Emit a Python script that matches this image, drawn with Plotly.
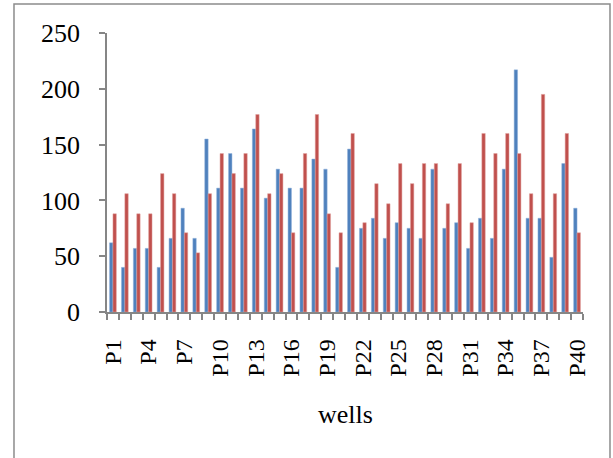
import plotly.graph_objects as go

wells = [f"P{i}" for i in range(1, 41)]

series_a = [62, 40, 57, 57, 40, 66, 93, 66, 155, 111,
            142, 111, 164, 102, 128, 111, 111, 137, 128, 40,
            146, 75, 84, 66, 80, 75, 66, 128, 75, 80,
            57, 84, 66, 128, 217, 84, 84, 49, 133, 93]

series_b = [88, 106, 88, 88, 124, 106, 71, 53, 106, 142,
            124, 142, 177, 106, 124, 71, 142, 177, 88, 71,
            160, 80, 115, 97, 133, 115, 133, 133, 97, 133,
            80, 160, 142, 160, 142, 106, 195, 106, 160, 71]

tick_labels = [w if i % 3 == 0 else "" for i, w in enumerate(wells)]

FONT = "Liberation Serif, Times New Roman, serif"
AXIS_GREY = "#868686"

fig = go.Figure()
fig.add_trace(go.Bar(x=wells, y=series_a, marker=dict(color="#4F81BD", line=dict(color="#8FB0DA", width=0.5))))
fig.add_trace(go.Bar(x=wells, y=series_b, marker=dict(color="#C0504D", line=dict(color="#E0A09E", width=0.5))))

fig.update_layout(
    width=613, height=458,
    margin=dict(l=107, r=30, t=33, b=146),
    paper_bgcolor="white", plot_bgcolor="white",
    showlegend=False,
    barmode="group", bargap=0.43, bargroupgap=0,
    font=dict(family=FONT, size=24, color="black"),
)

fig.update_xaxes(
    type="category",
    tickmode="array", tickvals=wells, ticktext=tick_labels,
    tickson="boundaries", ticks="outside", ticklen=6, tickwidth=1.5, tickcolor=AXIS_GREY,
    tickangle=-90, ticklabelstandoff=16,
    showline=True, linecolor=AXIS_GREY, linewidth=1.5,
    showgrid=False, zeroline=False,
    tickfont=dict(family=FONT, size=24, color="black"),
)

fig.update_yaxes(
    range=[0, 250], dtick=50,
    ticks="outside", ticklen=6, tickwidth=1.5, tickcolor=AXIS_GREY,
    ticklabelstandoff=14,
    showline=True, linecolor=AXIS_GREY, linewidth=1.5,
    showgrid=False, zeroline=False,
    tickfont=dict(family=FONT, size=26, color="black"),
)

fig.add_annotation(
    text="wells", xref="paper", yref="paper",
    x=0.5, y=-0.366, xanchor="center", yanchor="middle",
    showarrow=False, font=dict(family=FONT, size=26, color="black"),
)

# outer chart frame
fig.add_shape(
    type="rect", xref="paper", yref="paper",
    x0=-0.1954, x1=1.0567, y0=-0.6, y1=1.104,
    line=dict(color="#8C8C8C", width=1.5), fillcolor="rgba(0,0,0,0)",
    layer="below",
)

fig.write_html("out.html")
